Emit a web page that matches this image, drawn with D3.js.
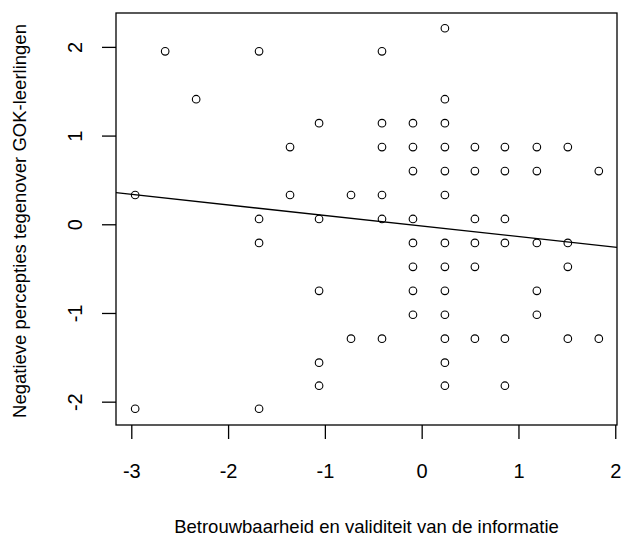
<!DOCTYPE html>
<html>
<head>
<meta charset="utf-8">
<script src="https://cdn.jsdelivr.net/npm/d3@7"></script>
<style>
  body { margin: 0; background: #fff; }
  svg { display: block; font-family: "Liberation Sans", Arial, sans-serif; }
</style>
</head>
<body>
<div id="scatter-vis"></div>
<script>
// points (x: betrouwbaarheid, y: negatieve percepties)
let xValues = [-2.96, -2.96, -2.65, -2.33,
    -1.68, -1.68, -1.68, -1.68,
    -1.36, -1.36,
    -1.06, -1.06, -1.06, -1.06, -1.06,
    -0.73, -0.73,
    -0.41, -0.41, -0.41, -0.41, -0.41, -0.41,
    -0.09, -0.09, -0.09, -0.09, -0.09, -0.09, -0.09, -0.09,
    0.24, 0.24, 0.24, 0.24, 0.24, 0.24, 0.24, 0.24, 0.24, 0.24, 0.24, 0.24, 0.24,
    0.55, 0.55, 0.55, 0.55, 0.55, 0.55,
    0.86, 0.86, 0.86, 0.86, 0.86, 0.86,
    1.19, 1.19, 1.19, 1.19, 1.19,
    1.51, 1.51, 1.51, 1.51,
    1.83, 1.83];
let yValues = [0.33, -2.08, 1.95, 1.41,
    1.95, 0.06, -0.21, -2.08,
    0.87, 0.33,
    1.14, 0.06, -0.75, -1.56, -1.82,
    0.33, -1.29,
    1.95, 1.14, 0.87, 0.33, 0.06, -1.29,
    1.14, 0.87, 0.60, 0.06, -0.21, -0.48, -0.75, -1.02,
    2.21, 1.41, 1.14, 0.87, 0.60, 0.33, -0.21, -0.48, -0.75, -1.02, -1.29, -1.56, -1.82,
    0.87, 0.60, 0.06, -0.21, -0.48, -1.29,
    0.87, 0.60, 0.06, -0.21, -1.29, -1.82,
    0.87, 0.60, -0.21, -0.75, -1.02,
    0.87, -0.21, -0.48, -1.29,
    0.60, -1.29];
// abline: intercept, slope
let lineCoef = [-0.02, -0.119];
let xTicks = [-3, -2, -1, 0, 1, 2];
let yTicks = [-2, -1, 0, 1, 2];
let xTitle = "Betrouwbaarheid en validiteit van de informatie";
let yTitle = "Negatieve percepties tegenover GOK-leerlingen";

function ScatterVis(){
    let self = this;
    self.init();
};

ScatterVis.prototype.init = function(){
    let self = this;
    self.svgWidth = 624;
    self.svgHeight = 538;
    self.box = {left: 116, top: 13, right: 617, bottom: 425};

    self.svg = d3.select("#scatter-vis").append("svg")
        .attr("width", self.svgWidth)
        .attr("height", self.svgHeight);

    self.x = d3.scaleLinear().domain([-3.158, 2.018]).range([self.box.left, self.box.right]);
    self.y = d3.scaleLinear().domain([-2.263, 2.382]).range([self.box.bottom, self.box.top]);

    self.update();
};

ScatterVis.prototype.update = function(){
    let self = this;
    let b = self.box;
    let fmt = function(d){ return String(d); }; // plain hyphen like R

    //axes, R style: ticks outside, no domain line
    let xAxis = self.svg.append("g")
        .attr("transform", "translate(0," + b.bottom + ")")
        .call(d3.axisBottom(self.x).tickValues(xTicks).tickSize(14).tickFormat(fmt));
    let yAxis = self.svg.append("g")
        .attr("transform", "translate(" + b.left + ",0)")
        .call(d3.axisLeft(self.y).tickValues(yTicks).tickSize(14).tickFormat(fmt));
    [xAxis, yAxis].forEach(function(a){
        a.select(".domain").remove();
        a.selectAll("line").attr("stroke", "#000").attr("stroke-width", 1.3);
        a.selectAll("text").attr("fill", "#000").style("font-size", "20px")
            .style("font-family", "'Liberation Sans', Arial, sans-serif")
            .attr("dy", null)
            .attr("text-anchor", "middle")
            .attr("dominant-baseline", "central");
    });
    xAxis.selectAll(".tick text").attr("y", 46);
    yAxis.selectAll(".tick text")
        .attr("x", 0).attr("y", 0)
        .attr("transform", "translate(-41,0) rotate(-90)");

    //plot box
    self.svg.append("rect")
        .attr("x", b.left).attr("y", b.top)
        .attr("width", b.right - b.left).attr("height", b.bottom - b.top)
        .attr("fill", "none").attr("stroke", "#000").attr("stroke-width", 1.3);

    //regression line, clipped to the box
    self.svg.append("clipPath").attr("id", "plot-clip")
        .append("rect").attr("x", b.left).attr("y", b.top)
        .attr("width", b.right - b.left).attr("height", b.bottom - b.top);
    let xd = self.x.domain();
    self.svg.append("line")
        .attr("clip-path", "url(#plot-clip)")
        .attr("x1", self.x(xd[0])).attr("y1", self.y(lineCoef[0] + lineCoef[1] * xd[0]))
        .attr("x2", self.x(xd[1])).attr("y2", self.y(lineCoef[0] + lineCoef[1] * xd[1]))
        .attr("stroke", "#000").attr("stroke-width", 1.3);

    //points
    self.svg.append("g").selectAll("circle")
        .data(d3.range(xValues.length))
        .enter().append("circle")
        .attr("cx", function(i){ return self.x(xValues[i]); })
        .attr("cy", function(i){ return self.y(yValues[i]); })
        .attr("r", 3.8)
        .attr("fill", "none")
        .attr("stroke", "#000")
        .attr("stroke-width", 1.1);

    //axis titles
    self.svg.append("text")
        .attr("x", (b.left + b.right) / 2).attr("y", 533)
        .attr("text-anchor", "middle")
        .style("font-size", "18.5px")
        .text(xTitle);
    self.svg.append("text")
        .attr("transform", "translate(26," + 221 + ") rotate(-90)")
        .attr("text-anchor", "middle")
        .style("font-size", "18.5px")
        .text(yTitle);
};

new ScatterVis();
</script>
</body>
</html>
